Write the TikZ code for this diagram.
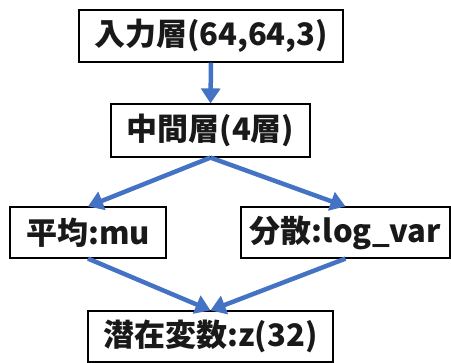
\documentclass[tikz,border=0pt]{standalone}
\usepackage{fontspec}
\setmainfont{Noto Sans CJK JP}
\usetikzlibrary{arrows.meta}
\definecolor{arrowblue}{RGB}{68,114,196}
\tikzset{
  box/.style={draw=black, line width=1.2pt, inner sep=0pt, font=\fontsize{31}{32}\selectfont\bfseries, text=black!90},
  conn/.style={draw=arrowblue, line width=4.5pt, -{Triangle[width=19pt,length=15pt]}}
}
\begin{document}
\begin{tikzpicture}[x=1pt,y=-1pt]
\useasboundingbox (0,0) rectangle (451,363);
\node[box, minimum width=264pt, minimum height=52pt] (in) at (211,36) {入力層(64,64,3)};
\node[box, minimum width=199pt, minimum height=53pt] (mid) at (210.5,130.5) {中間層(4層)};
\node[box, minimum width=156pt, minimum height=51pt] (mu) at (88,232.5) {平均:mu};
\node[box, minimum width=209pt, minimum height=51pt] (lv) at (345.5,232.5) {分散:log\_var};
\node[box, minimum width=245pt, minimum height=51pt] (z) at (210.5,336.5) {潜在変数:z(32)};
\draw[conn] (in.south) -- (mid.north);
\draw[conn] (mid.south) -- (mu.north);
\draw[conn] (mid.south) -- (lv.north);
\draw[conn] (mu.south) -- (z.north);
\draw[conn] (lv.south) -- (z.north);
\end{tikzpicture}
\end{document}
